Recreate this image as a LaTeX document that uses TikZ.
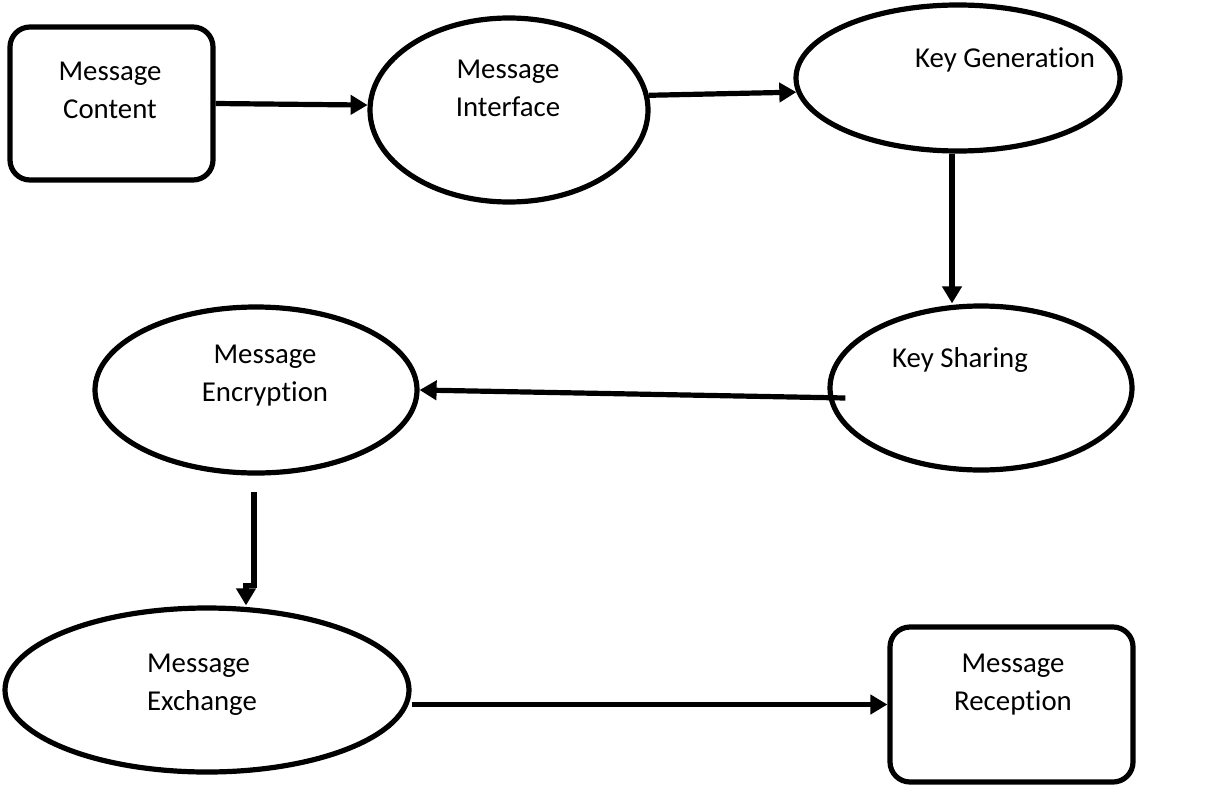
\documentclass[tikz,border=0pt]{standalone}
\usepackage{fontspec}
\setmainfont{Carlito}[RawFeature={-liga;-clig;-calt;-dlig}]
\usetikzlibrary{shapes.geometric,arrows.meta,calc}
\begin{document}
\begin{tikzpicture}[x=0.5pt,y=-0.5pt,
  shapeline/.style={draw=black,line width=2.6pt},
  rbox/.style={shapeline,rectangle,rounded corners=10pt,inner sep=0pt},
  oval/.style={shapeline,ellipse,inner sep=0pt},
  lbl/.style={font=\fontsize{14.4}{19}\selectfont,align=center,inner sep=0pt},
  arr/.style={line width=2.6pt,-{Triangle[length=8.5pt,width=9.5pt]}}]
\useasboundingbox (0,0) rectangle (1213,797);
\node[rbox,minimum width=101.5pt,minimum height=76.5pt] (mc) at (111.5,103.5) {};
\node[oval,minimum width=139pt,minimum height=92pt] (mi) at (509,110) {};
\node[oval,minimum width=162pt,minimum height=73pt] (kg) at (958,78) {};
\node[oval,minimum width=151pt,minimum height=82pt] (ks) at (981,388) {};
\node[oval,minimum width=161pt,minimum height=83pt] (mee) at (256,390) {};
\node[oval,minimum width=202pt,minimum height=82pt] (mx) at (207,690) {};
\node[rbox,minimum width=121.5pt,minimum height=77.5pt] (mr) at (1011.5,704.5) {};
\node[lbl] (tmc) at (110,90) {Message\\Content};
\node[lbl] (tmi) at (508,88) {Message\\Interface};
\node[lbl] (tkg) at (1005,60) {Key Generat\kern0pt ion};
\node[lbl] (tks) at (960,360) {Key Sharing};
\node[lbl] (tme) at (265,376) {Message\\Encrypt\kern0pt ion};
\node[lbl,align=left] (tmx) at (202,685) {Message\\Exchange};
\node[lbl] (tmr) at (1013,685) {Message\\Reception};
\draw[arr] (mc.east) -- (mi.178);
\draw[arr] (mi.6.6) -- (kg.185.8);
\coordinate (a3) at ($(kg.south)+(-6,0)$);
\draw[arr] (a3) -- (ks.north -| a3);
\coordinate (a4) at ($(ks.west)+(18,10)$);
\draw[arr] (a4) -- (mee.east);
\coordinate (a5) at ($(mee.south)+(-2,16)$);
\coordinate (a5b) at ($(mx.north)+(39,0)$);
\draw[arr] (a5) -- ++(0,94) -| (a5b);
\draw[arr] (mr.west -| mx.east) -- (mr.west);
\end{tikzpicture}
\end{document}
